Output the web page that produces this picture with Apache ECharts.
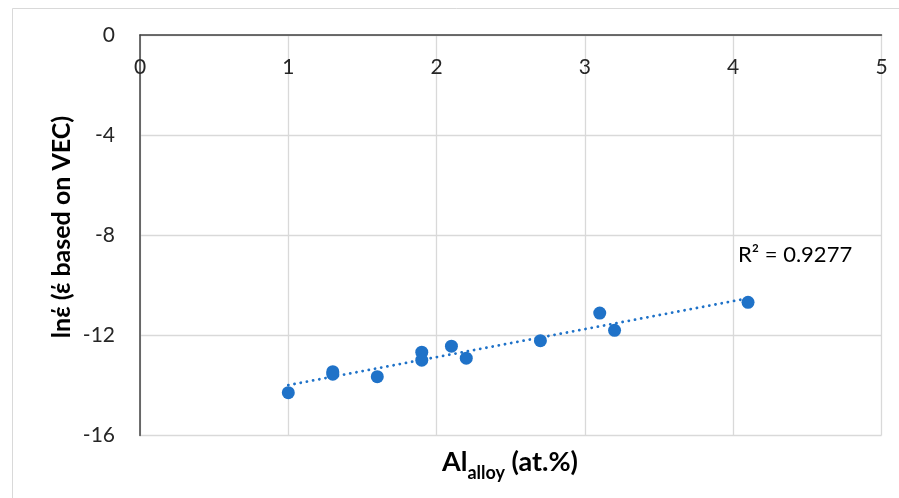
<!DOCTYPE html>
<html>
<head>
<meta charset="utf-8">
<script src="https://cdn.jsdelivr.net/npm/echarts@6/dist/echarts.min.js"></script>
<style>
  html, body { margin: 0; padding: 0; background: #fff; }
  #chart { width: 899px; height: 498px; }
</style>
</head>
<body>
<div id="chart"></div>
<script>
// Al content of the alloy (at.%) and ln of the VEC-based strain
const alContent = [1.0, 1.3, 1.3, 1.6, 1.9, 1.9, 2.1, 2.2, 2.7, 3.1, 3.2, 4.1];
const lnStrain  = [-14.29, -13.45, -13.55, -13.65, -12.67, -12.99, -12.43, -12.91, -12.21, -11.11, -11.80, -10.68];
const xTicks = [0, 1, 2, 3, 4, 5];
const yTicks = [0, -4, -8, -12, -16];
const r2Label = 'R² = 0.9277';

const FONT = 'Lato, "Open Sans", sans-serif';
const BLUE = '#1F72C8';

// least-squares linear trend over the data range
function linearFit(xs, ys) {
  const n = xs.length;
  const mx = xs.reduce((a, b) => a + b, 0) / n;
  const my = ys.reduce((a, b) => a + b, 0) / n;
  let sxy = 0, sxx = 0;
  for (let i = 0; i < n; i++) {
    sxy += (xs[i] - mx) * (ys[i] - my);
    sxx += (xs[i] - mx) * (xs[i] - mx);
  }
  const slope = sxy / sxx;
  return { slope, intercept: my - slope * mx };
}
const fit = linearFit(alContent, lnStrain);
const xMin = Math.min(...alContent), xMax = Math.max(...alContent);
const trend = [
  [xMin, fit.intercept + fit.slope * xMin],
  [xMax, fit.intercept + fit.slope * xMax]
];

const chart = echarts.init(document.getElementById('chart'), null, { renderer: 'canvas' });
chart.setOption({
  animation: false,
  backgroundColor: '#fff',
  grid: { left: 140, top: 35, right: 17.5, bottom: 62.5, containLabel: false },
  xAxis: {
    type: 'value',
    position: 'top',
    min: xTicks[0], max: xTicks[xTicks.length - 1], interval: 1,
    axisLine: { show: true, onZero: false, lineStyle: { color: '#404040', width: 1.5 } },
    axisTick: { show: false },
    axisLabel: { inside: true, color: '#262626', fontSize: 21, fontFamily: FONT, margin: 22 },
    splitLine: { show: true, lineStyle: { color: '#d9d9d9', width: 1.3 } }
  },
  yAxis: {
    type: 'value',
    min: yTicks[yTicks.length - 1], max: yTicks[0], interval: 4,
    axisLine: { show: true, onZero: false, lineStyle: { color: '#404040', width: 1.5 } },
    axisTick: { show: false },
    axisLabel: { color: '#262626', fontSize: 21, fontFamily: FONT, margin: 25 },
    splitLine: { show: true, lineStyle: { color: '#d9d9d9', width: 1.3 } }
  },
  series: [
    {
      type: 'line',
      data: trend,
      symbol: 'none',
      silent: true,
      lineStyle: { color: BLUE, width: 2.8, type: [0.1, 6.2], cap: 'round' },
      z: 2
    },
    {
      type: 'scatter',
      data: alContent.map((x, i) => [x, lnStrain[i]]),
      symbolSize: 13,
      itemStyle: { color: BLUE, opacity: 1 },
      z: 3
    }
  ],
  graphic: [
    {
      type: 'rect',
      shape: { x: 12.5, y: 8.5, width: 1000, height: 1000 },
      style: { fill: 'none', stroke: '#d9d9d9', lineWidth: 1 },
      silent: true, z: -10
    },
    {
      type: 'text',
      x: 62, y: 227,
      rotation: Math.PI / 2,
      style: {
        text: 'lnέ (έ based on VEC)',
        font: 'bold 25px ' + FONT,
        fill: '#000',
        align: 'center',
        verticalAlign: 'middle'
      }
    },
    {
      type: 'text',
      x: 510, y: 461,
      style: {
        text: '{a|Al}{s|alloy}{a| (at.%)}',
        align: 'center',
        verticalAlign: 'middle',
        rich: {
          a: { font: 'bold 27px ' + FONT, fill: '#000', verticalAlign: 'bottom', lineHeight: 30 },
          s: { font: 'bold 18px ' + FONT, fill: '#000', verticalAlign: 'bottom', lineHeight: 30, padding: [0, 0, -6, 0] }
        }
      }
    },
    {
      type: 'text',
      x: 738, y: 255,
      style: {
        text: r2Label,
        font: '22px ' + FONT,
        fill: '#000',
        align: 'left',
        verticalAlign: 'middle'
      }
    }
  ]
});
</script>
</body>
</html>
